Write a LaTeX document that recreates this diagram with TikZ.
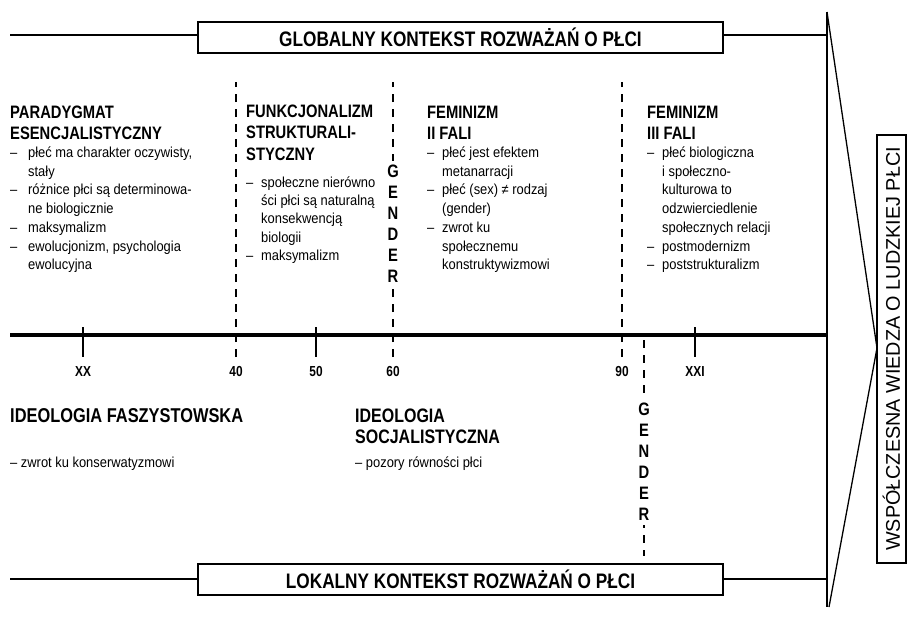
\documentclass[tikz,border=0pt]{standalone}
\usepackage{fontspec}
\setmainfont{Liberation Sans}[FakeStretch=0.89]
\newfontfamily\hfont{Liberation Sans}[FakeStretch=0.82]
\newfontfamily\widefont{Liberation Sans}
\newlength\bind
\setlength\bind{15pt}
\newcommand\HL[1]{\hbox{#1}}
\newcommand\IT[1]{\hbox{\makebox[\bind][l]{–}#1}}
\newcommand\CT[1]{\hbox{\hspace*{\bind}#1}}
\newcommand\HEAD{\hfont\bfseries\fontsize{18}{21.5}\selectfont}
\newcommand\BODY{\normalfont\fontsize{14.5}{18.7}\selectfont}
\begin{document}
\begin{tikzpicture}[x=1pt,y=-1pt,
  ctxbox/.style={draw,line width=2pt,minimum width=525pt,minimum height=31pt,inner sep=0pt,
    font=\hfont\bfseries\fontsize{21}{24}\selectfont},
  conn/.style={line width=1.4pt},
  dashline/.style={line width=2.5pt,dash pattern=on 8pt off 7pt},
  tickline/.style={line width=2pt},
  col/.style={anchor=base west,inner sep=0pt},
  ticklabel/.style={font=\hfont\bfseries\fontsize{14.5}{16}\selectfont,inner sep=0pt},
  gender/.style={align=center,fill=white,inner xsep=2pt,inner ysep=4pt,
    font=\hfont\bfseries\fontsize{18}{21}\selectfont}]
\useasboundingbox (0,0) rectangle (908,619);

% context boxes
\node[ctxbox] (glob) at (460.5,37.5) {GLOBALNY KONTEKST ROZWAŻAŃ O PŁCI};
\node[ctxbox] (lok) at (460.5,579) {LOKALNY KONTEKST ROZWAŻAŃ O PŁCI};

% right bar and triangle
\coordinate (bartop) at (827,12);
\coordinate (barbot) at (827,607);
\coordinate (apex) at (877,348);
\coordinate (tribot) at (829,607);
\draw[line width=2.6pt] (bartop) -- (barbot);
\draw[line width=1.3pt] (bartop) -- (apex) -- (tribot);

\coordinate (gl) at (10,35);
\coordinate (gr) at (827,35);
\coordinate (ll) at (10,579);
\coordinate (lr) at (827,579);
\draw[conn] (gl) -- (gl -| glob.west);
\draw[conn] (gr -| glob.east) -- (gr);
\draw[conn] (ll) -- (lok.west);
\draw[conn] (lok.east) -- (lr);

\node[draw,line width=1.5pt,rotate=90,minimum width=428pt,minimum height=29pt,inner sep=0pt,
  font=\widefont\fontsize{19.8}{21}\selectfont] (know) at (891.5,349) {WSPÓŁCZESNA WIEDZA O LUDZKIEJ PŁCI};

% timeline
\coordinate (tl) at (10,335);
\coordinate (tr) at (827,335);
\draw[line width=4.5pt] (tl) -- (tr);

% solid ticks
\draw[tickline] (83,327) -- (83,357);
\draw[tickline] (316,327) -- (316,357);
\draw[tickline] (695,327) -- (695,357);

% dashed verticals
\draw[dashline] (236,357) -- (236,82);
\draw[dashline] (393,357) -- (393,82);
\draw[dashline] (622,357) -- (622,82);
\draw[dashline] (644,340) -- (644,556);

% tick labels
\node[ticklabel] (lxx) at (83,372) {XX};
\node[ticklabel] (l40) at (236,372) {40};
\node[ticklabel] (l50) at (316,372) {50};
\node[ticklabel] (l60) at (393,372) {60};
\node[ticklabel] (l90) at (622,372) {90};
\node[ticklabel] (lxxi) at (695,372) {XXI};

% GENDER labels
\node[gender] (g1) at (393,224) {G\\E\\N\\D\\E\\R};
\node[gender] (g2) at (644,462) {G\\E\\N\\D\\E\\R};

% columns
\node[col] (c1) at (10,118) {\setlength\bind{18pt}\vtop{\HEAD
  \HL{PARADYGMAT}
  \HL{ESENCJALISTYCZNY}
  \BODY\baselineskip=18pt
  \IT{płeć ma charakter oczywisty,}\baselineskip=18.7pt
  \CT{stały}
  \IT{różnice płci są determinowa-}
  \CT{ne biologicznie}
  \IT{maksymalizm}
  \IT{ewolucjonizm, psychologia}
  \CT{ewolucyjna}}};

\node[col] (c2) at (246,117) {\vtop{\HEAD
  \HL{FUNKCJONALIZM}
  \HL{STRUKTURALI-}
  \HL{STYCZNY}
  \BODY\baselineskip=27pt
  \IT{społeczne nierówno}\baselineskip=18.4pt
  \CT{ści płci są naturalną}
  \CT{konsekwencją}
  \CT{biologii}
  \IT{maksymalizm}}};

\node[col] (c3) at (427,118) {\vtop{\HEAD
  \HL{FEMINIZM}
  \HL{II FALI}
  \BODY\baselineskip=18pt
  \IT{płeć jest efektem}\baselineskip=18.7pt
  \CT{metanarracji}
  \IT{płeć (sex) ≠ rodzaj}
  \CT{(gender)}
  \IT{zwrot ku}
  \CT{społecznemu}
  \CT{konstruktywizmowi}}};

\node[col] (c4) at (647,118) {\vtop{\HEAD
  \HL{FEMINIZM}
  \HL{III FALI}
  \BODY\baselineskip=18pt
  \IT{płeć biologiczna}\baselineskip=18.7pt
  \CT{i społeczno-}
  \CT{kulturowa to}
  \CT{odzwierciedlenie}
  \CT{społecznych relacji}
  \IT{postmodernizm}
  \IT{poststrukturalizm}}};

% lower texts
\node[col,font=\hfont\bfseries\fontsize{20}{21.5}\selectfont] (fa) at (10,422) {IDEOLOGIA FASZYSTOWSKA};
\node[col,font=\BODY] (fab) at (10,467) {– zwrot ku konserwatyzmowi};
\node[col] (so) at (355,422) {\vtop{\hfont\bfseries\fontsize{19.5}{21.5}\selectfont
  \HL{IDEOLOGIA}\HL{SOCJALISTYCZNA}}};
\node[col,font=\BODY] (sob) at (355,467) {– pozory równości płci};
\end{tikzpicture}
\end{document}
